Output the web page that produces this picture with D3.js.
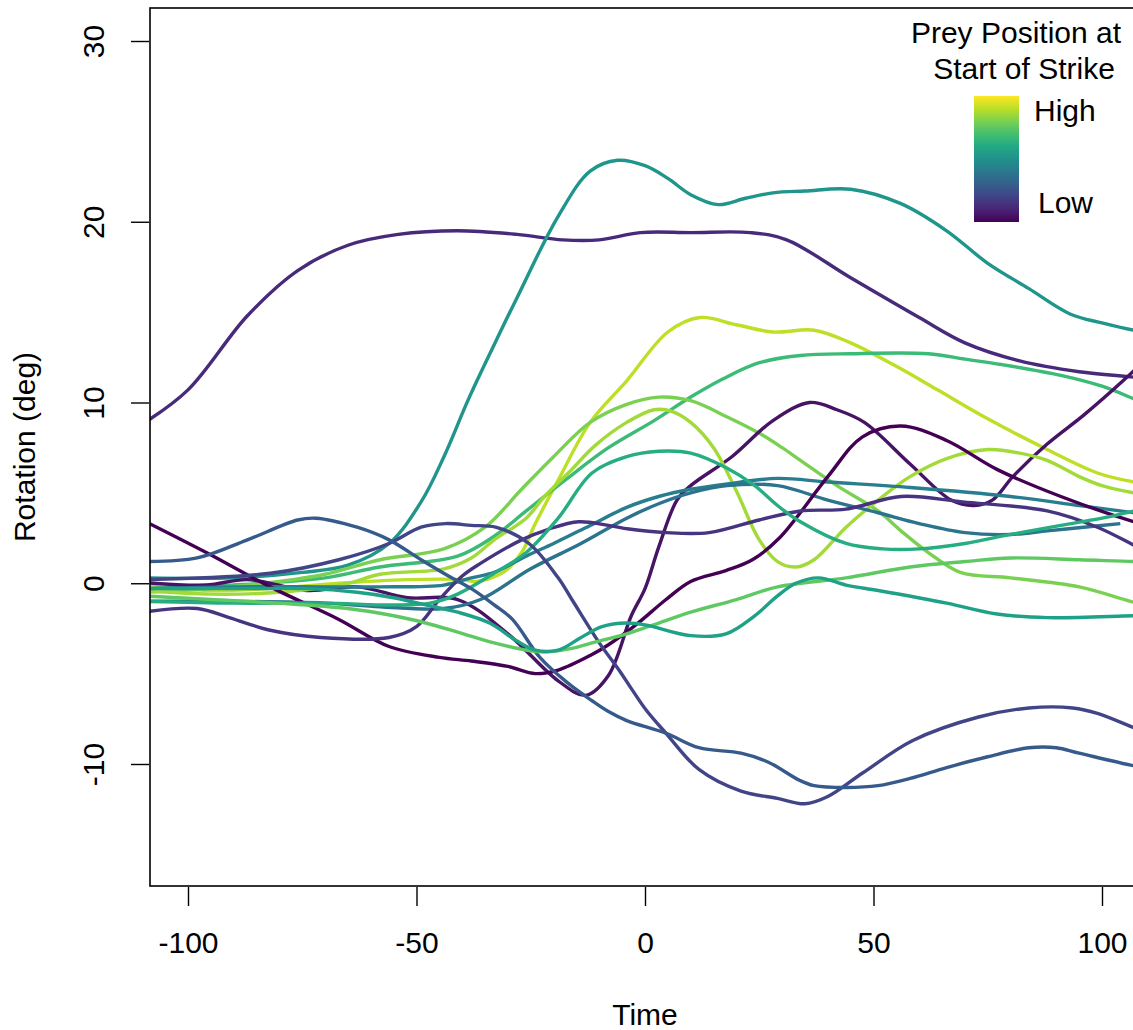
<!DOCTYPE html>
<html>
<head>
<meta charset="utf-8">
<script src="https://cdn.jsdelivr.net/npm/d3@7"></script>
<style>
  body { margin: 0; background: #ffffff; }
  svg { display: block; font-family: "Liberation Sans", Arial, sans-serif; }
</style>
</head>
<body>
<div id="chart"></div>
<script>
//*************************0. Data

const xTicks = [-100, -50, 0, 50, 100]
const yTicks = [-10, 0, 10, 20, 30]

// each track: [time, rotation (deg)]
const trackA = [[-110, 8.8], [-100, 10.7], [-87, 14.8], [-76, 17.3], [-65, 18.7], [-54, 19.3], [-41, 19.5], [-28, 19.3], [-18, 19.0], [-10, 19.0], [-1, 19.4], [10, 19.4], [23, 19.4], [31, 19.0], [45, 16.9], [60, 14.7], [70, 13.3], [82, 12.3], [95, 11.7], [107, 11.4], [110, 11.3]]
const trackB = [[-110, 0.3], [-90, 0.3], [-75, 0.6], [-65, 1.0], [-56, 2.2], [-49, 4.5], [-44, 7.0], [-38.6, 10.2], [-33, 13.2], [-28, 15.8], [-19, 20.3], [-12, 22.8], [-6, 23.4], [0, 23.1], [5, 22.4], [10, 21.5], [16, 20.95], [22, 21.3], [28, 21.6], [35, 21.7], [45, 21.8], [56, 21.0], [66, 19.5], [75, 17.7], [84, 16.3], [93, 14.9], [100, 14.4], [107, 14.0], [110, 13.9]]
const trackC = [[-110, -0.1], [-96, -0.4], [-82, -0.3], [-67, 0.0], [-52, 0.2], [-40, 0.2], [-37, 0.1], [-31, 0.6], [-27, 1.7], [-24, 3.3], [-19, 5.7], [-12, 8.9], [-4, 11.2], [5, 13.9], [12, 14.7], [20, 14.3], [28, 13.9], [37, 14.0], [45, 13.3], [55, 12.0], [64, 10.7], [75, 9.1], [88, 7.4], [99, 6.1], [107, 5.6], [110, 5.5]]
const trackD = [[-110, -0.3], [-90, -0.1], [-70, 0.3], [-58, 0.9], [-41, 1.5], [-33, 2.6], [-26, 4.0], [-17, 5.8], [-8, 7.5], [2, 9.0], [10, 10.3], [17, 11.3], [25, 12.2], [34, 12.6], [45, 12.7], [62, 12.7], [70, 12.4], [78, 12.1], [91, 11.5], [100, 10.9], [107, 10.2], [110, 9.9]]
const trackE = [[-110, -0.5], [-95, -0.3], [-80, 0.1], [-70, 0.5], [-58, 1.3], [-44, 1.9], [-35, 3.1], [-27, 5.2], [-20, 7.0], [-12, 8.9], [-4, 9.9], [3, 10.3], [10, 10.1], [18, 9.2], [25, 8.3], [30, 7.5], [34, 6.8], [42, 5.4], [51, 4.0], [56, 2.9], [62, 1.7], [69, 0.6], [80, 0.3], [95, -0.2], [107, -1.05], [110, -1.2]]
const trackF = [[-110, 0.05], [-96, -0.1], [-87, 0.2], [-74, -0.4], [-63, -0.2], [-52, -0.8], [-41, -0.9], [-30, -2.8], [-19, -5.4], [-13, -6.2], [-8, -5.1], [-3, -1.8], [0, -0.3], [3, 2.0], [7, 4.6], [10, 5.4], [19, 7.0], [28, 9.0], [36, 10.0], [42, 9.6], [48, 8.9], [58, 6.6], [67, 4.6], [72, 4.3], [76, 4.6], [80.5, 5.9], [88, 7.7], [96, 9.3], [104.6, 11.2], [110, 12.5]]
const trackG = [[-110, -0.4], [-95, -0.6], [-80, -0.5], [-65, 0.0], [-58, 0.5], [-44, 0.8], [-38, 1.4], [-33, 2.4], [-26, 3.6], [-22, 4.8], [-16, 6.3], [-11, 7.6], [-4, 8.9], [2, 9.6], [6, 9.5], [10, 8.9], [15, 7.5], [20, 5.1], [25, 2.4], [29, 1.2], [33, 0.9], [37, 1.3], [44, 3.1], [51, 4.6], [58, 5.9], [66, 6.9], [75, 7.4], [82, 7.2], [88, 6.8], [95, 5.9], [100, 5.4], [107, 5.0], [110, 4.9]]
const trackH = [[-110, -0.3], [-90, -0.2], [-70, -0.2], [-58, -0.2], [-44, -0.1], [-38, 0.3], [-33, 0.6], [-26, 1.5], [-20, 2.2], [-12, 3.2], [-4, 4.2], [3, 4.8], [10, 5.2], [18, 5.5], [29, 5.8], [40, 5.6], [58, 5.3], [80, 4.8], [95, 4.3], [107, 3.9], [110, 3.8]]
const trackH2 = [[-110, -1.0], [-90, -1.0], [-70, -1.1], [-58, -1.3], [-44, -1.4], [-36, -0.9], [-25, 0.8], [-14, 2.2], [-4, 3.6], [3, 4.4], [10, 5.0], [18, 5.4], [29, 5.4], [40, 4.6], [51, 3.9], [60, 3.3], [70, 2.8], [80, 2.7], [88, 2.9], [96, 3.1], [104, 3.3]]
const trackI = [[-110, 3.5], [-96, 1.7], [-82, -0.2], [-67, -2.0], [-56, -3.5], [-45, -4.1], [-38, -4.3], [-30, -4.6], [-24, -5.0], [-19, -4.8], [-12, -4.0], [-8, -3.4], [-2, -2.3], [4.6, -0.9], [10, 0.1], [17.7, 0.7], [23.5, 1.3], [29.4, 2.5], [40, 5.9], [47.6, 8.1], [56, 8.7], [66, 7.9], [77, 6.3], [91, 4.8], [107, 3.4], [110, 3.2]]
const trackJ = [[-110, -1.6], [-98, -1.4], [-91, -1.9], [-82, -2.6], [-71, -3.0], [-56, -3.0], [-50, -2.4], [-45, -0.9], [-40, 0.4], [-36, 1.1], [-27, 2.4], [-21, 3.0], [-14.5, 3.4], [-8, 3.2], [-3.5, 3.0], [4.6, 2.8], [14, 2.8], [25, 3.5], [34, 4.0], [44, 4.1], [56, 4.8], [69.5, 4.5], [88, 4.0], [99, 3.1], [107, 2.1], [110, 1.7]]
const trackK = [[-110, -1.0], [-90, -1.1], [-70, -1.1], [-55, -1.2], [-47, -1.1], [-41, -0.6], [-34, 0.4], [-26, 1.7], [-19, 3.6], [-11.6, 6.1], [-4, 7.0], [3, 7.3], [10, 7.2], [17.7, 6.4], [24, 5.4], [29, 4.3], [34, 3.4], [44, 2.2], [52, 1.9], [60, 1.9], [70, 2.2], [80, 2.7], [91, 3.2], [102, 3.7], [107, 4.0], [110, 4.1]]
const trackL = [[-110, 0.2], [-82, 0.55], [-67, 1.3], [-56, 2.2], [-49, 3.1], [-43.6, 3.3], [-38, 3.2], [-32.7, 3.1], [-25.4, 2.2], [-19, 0.3], [-16, -0.9], [-10, -3.3], [-5.7, -4.8], [-2.8, -5.9], [0.2, -7.0], [4.6, -8.3], [11.8, -10.3], [21, -11.5], [29, -11.9], [35, -12.2], [40, -11.8], [47.6, -10.5], [58.6, -8.7], [73, -7.4], [84, -6.9], [93.6, -6.9], [99, -7.2], [107, -8.0], [110, -8.3]]
const trackM = [[-110, 1.2], [-98, 1.4], [-87, 2.4], [-76, 3.5], [-72, 3.6], [-63, 3.1], [-56, 2.4], [-49, 1.3], [-43, 0.4], [-38, -0.3], [-33, -1.2], [-29, -2.0], [-23, -4.1], [-17, -5.5], [-11.6, -6.5], [-8, -7.1], [-4, -7.6], [4.6, -8.3], [11.8, -9.1], [21, -9.4], [27, -9.9], [33.8, -10.9], [37, -11.2], [44, -11.3], [51, -11.2], [58, -10.8], [66, -10.2], [75, -9.6], [84, -9.1], [90, -9.1], [95, -9.4], [107, -10.1], [110, -10.2]]
const trackP = [[-110, -0.7], [-95, -0.9], [-80, -1.1], [-65, -1.4], [-55, -1.8], [-48, -2.2], [-41, -2.7], [-33, -3.3], [-26, -3.7], [-22, -3.8], [-16, -3.6], [-11.6, -3.3], [-4, -2.8], [3, -2.2], [10, -1.6], [20, -0.9], [29, -0.2], [44, 0.3], [58, 0.9], [70, 1.2], [80, 1.4], [95, 1.3], [107, 1.2], [110, 1.2]]
const trackQ = [[-110, -0.3], [-90, -0.3], [-74, -0.3], [-63, -0.5], [-55, -0.8], [-48, -1.2], [-41, -1.6], [-34, -2.2], [-28, -3.2], [-24, -3.7], [-19, -3.7], [-14, -3.0], [-9.4, -2.4], [-4, -2.2], [0, -2.3], [10, -2.9], [17.7, -2.8], [24, -1.8], [29, -0.7], [33, 0.0], [38, 0.3], [44, -0.1], [51, -0.4], [66, -1.1], [77, -1.7], [88, -1.9], [107, -1.8], [110, -1.8]]

const tracks = [trackA, trackB, trackC, trackD, trackE, trackF, trackG, trackH, trackH2, trackI, trackJ, trackK, trackL, trackM, trackP, trackQ]
// prey position at start of strike, 0 = low, 1 = high
const preyPosition = [0.12, 0.52, 0.9, 0.68, 0.8, 0.05, 0.86, 0.42, 0.38, 0.0, 0.15, 0.62, 0.2, 0.28, 0.75, 0.57]

const legendTitle = ["Prey Position at", "Start of Strike"]
const legendLabels = ["High", "Low"]

async function drawChart() {
    //*************************1. Dimensions

    const dims = {
        width: 1133,
        height: 1030,
        plot: { left: 150, top: 8, right: 1140, bottom: 886 }
    }
    const fontSize = 30

    //*************************2. Wrapper

    const wrapper = d3.select("#chart")
        .append("svg")
        .attr("width", dims.width)
        .attr("height", dims.height)

    wrapper.append("defs").append("clipPath")
        .attr("id", "plot-clip")
        .append("rect")
        .attr("x", dims.plot.left)
        .attr("y", dims.plot.top)
        .attr("width", dims.plot.right - dims.plot.left)
        .attr("height", dims.plot.bottom - dims.plot.top)

    //*************************3. Accessors + scales

    const timeAccessor = d => d[0]
    const rotAccessor = d => d[1]

    const xScale = d3.scaleLinear()
        .domain([-100, 100])
        .range([188, 1102])

    const yScale = d3.scaleLinear()
        .domain([-10, 30])
        .range([764, 41])

    const colorScale = d3.scaleSequential(d3.interpolateViridis).domain([0, 1])

    // R prints a plain hyphen, not the unicode minus
    const plainFormat = d => String(d)

    //*************************4. Lines

    const lineGenerator = d3.line()
        .x(d => xScale(timeAccessor(d)))
        .y(d => yScale(rotAccessor(d)))
        .curve(d3.curveCatmullRom.alpha(0.5))

    wrapper.append("g")
        .attr("clip-path", "url(#plot-clip)")
        .selectAll("path")
        .data(tracks)
        .join("path")
        .attr("d", lineGenerator)
        .attr("fill", "none")
        .attr("stroke", (d, i) => colorScale(preyPosition[i]))
        .attr("stroke-width", 3.4)
        .attr("stroke-linejoin", "round")

    //*************************5. Box + axes

    wrapper.append("rect")
        .attr("x", dims.plot.left)
        .attr("y", dims.plot.top)
        .attr("width", dims.plot.right - dims.plot.left)
        .attr("height", dims.plot.bottom - dims.plot.top)
        .attr("fill", "none")
        .attr("stroke", "#000")
        .attr("stroke-width", 1.6)

    const xAxis = wrapper.append("g")
        .attr("transform", `translate(0, ${dims.plot.bottom + 1})`)
        .call(d3.axisBottom(xScale).tickValues(xTicks).tickSize(19).tickPadding(26).tickFormat(plainFormat))
    xAxis.select(".domain").remove()
    xAxis.selectAll("line").attr("stroke", "#000").attr("stroke-width", 1.4)
    xAxis.selectAll("text")
        .attr("font-size", fontSize)
        .attr("font-family", "Liberation Sans, Arial, sans-serif")
        .attr("fill", "#000")

    const yAxis = wrapper.append("g")
        .attr("transform", `translate(${dims.plot.left - 1}, 0)`)
        .call(d3.axisLeft(yScale).tickValues(yTicks).tickSize(18).tickFormat(plainFormat))
    yAxis.select(".domain").remove()
    yAxis.selectAll("line").attr("stroke", "#000").attr("stroke-width", 1.4)
    yAxis.selectAll("text")
        .attr("x", null)
        .attr("dy", null)
        .attr("transform", "translate(-45, 0) rotate(-90)")
        .attr("text-anchor", "middle")
        .attr("font-size", fontSize)
        .attr("font-family", "Liberation Sans, Arial, sans-serif")
        .attr("fill", "#000")

    // axis titles
    wrapper.append("text")
        .attr("x", xScale(0))
        .attr("y", 1025)
        .attr("text-anchor", "middle")
        .attr("font-size", fontSize)
        .text("Time")

    wrapper.append("text")
        .attr("transform", `translate(35, ${(dims.plot.top + dims.plot.bottom) / 2}) rotate(-90)`)
        .attr("text-anchor", "middle")
        .attr("font-size", fontSize)
        .text("Rotation (deg)")

    //*************************6. Legend

    const legend = wrapper.append("g")

    legend.append("text")
        .attr("x", 1016).attr("y", 43)
        .attr("text-anchor", "middle")
        .attr("font-size", fontSize)
        .text(legendTitle[0])
    legend.append("text")
        .attr("x", 1024).attr("y", 79)
        .attr("text-anchor", "middle")
        .attr("font-size", fontSize)
        .text(legendTitle[1])

    const gradient = wrapper.select("defs").append("linearGradient")
        .attr("id", "viridis-grad")
        .attr("x1", 0).attr("y1", 1).attr("x2", 0).attr("y2", 0)
    gradient.selectAll("stop")
        .data(d3.range(0, 1.0001, 0.1))
        .join("stop")
        .attr("offset", d => `${d * 100}%`)
        .attr("stop-color", d => colorScale(d))

    legend.append("rect")
        .attr("x", 974).attr("y", 96)
        .attr("width", 45).attr("height", 126)
        .attr("fill", "url(#viridis-grad)")

    legend.append("text")
        .attr("x", 1034).attr("y", 121)
        .attr("font-size", fontSize)
        .text(legendLabels[0])
    legend.append("text")
        .attr("x", 1038).attr("y", 213)
        .attr("font-size", fontSize)
        .text(legendLabels[1])
}
drawChart()
</script>
</body>
</html>
